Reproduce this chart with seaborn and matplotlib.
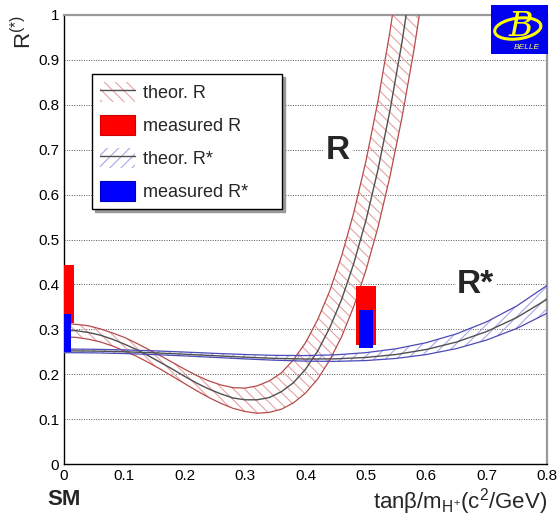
import seaborn as sns
import matplotlib.pyplot as plt
import matplotlib.patches as mpatches
from matplotlib.lines import Line2D
from matplotlib.ticker import MultipleLocator, FuncFormatter

# theory band R (tanb/mH scan)
x_r = [0.00, 0.02, 0.04, 0.06, 0.08, 0.10, 0.12, 0.14, 0.16, 0.18, 0.20,
       0.22, 0.24, 0.26, 0.28, 0.30, 0.32, 0.34, 0.36, 0.38, 0.40,
       0.42, 0.44, 0.46, 0.48, 0.50, 0.52, 0.54, 0.56, 0.58, 0.60]
r_up = [0.313, 0.311, 0.308, 0.301, 0.292, 0.282, 0.269, 0.255, 0.241, 0.226, 0.211,
        0.197, 0.185, 0.176, 0.170, 0.169, 0.174, 0.185, 0.203, 0.232, 0.270,
        0.321, 0.385, 0.464, 0.560, 0.674, 0.808, 0.964, 1.145, 1.351, 1.585]
r_mid = [0.298, 0.297, 0.293, 0.287, 0.278, 0.267, 0.255, 0.241, 0.226, 0.211, 0.195,
         0.180, 0.167, 0.156, 0.147, 0.143, 0.143, 0.148, 0.161, 0.181, 0.211,
         0.251, 0.303, 0.367, 0.447, 0.542, 0.655, 0.788, 0.941, 1.117, 1.318]
r_lo = [0.283, 0.282, 0.278, 0.272, 0.263, 0.252, 0.240, 0.226, 0.211, 0.195, 0.179,
        0.163, 0.148, 0.135, 0.124, 0.117, 0.113, 0.115, 0.122, 0.136, 0.158,
        0.189, 0.231, 0.284, 0.351, 0.431, 0.527, 0.641, 0.773, 0.925, 1.100]

# theory band R*
x_rs = [0.00, 0.05, 0.10, 0.15, 0.20, 0.25, 0.30, 0.35, 0.40,
        0.45, 0.50, 0.55, 0.60, 0.65, 0.70, 0.75, 0.80]
rs_up = [0.256, 0.2555, 0.2541, 0.2520, 0.2493, 0.2464, 0.2438, 0.2419, 0.2415,
         0.2432, 0.2480, 0.2566, 0.2702, 0.2898, 0.3167, 0.3521, 0.3976]
rs_mid = [0.252, 0.2515, 0.2500, 0.2476, 0.2445, 0.2412, 0.2379, 0.2352, 0.2338,
          0.2342, 0.2373, 0.2439, 0.2550, 0.2716, 0.2950, 0.3262, 0.3668]
rs_lo = [0.248, 0.2475, 0.2460, 0.2437, 0.2407, 0.2374, 0.2340, 0.2311, 0.2291,
         0.2286, 0.2304, 0.2351, 0.2437, 0.2570, 0.2761, 0.3019, 0.3357]

# measurements (SM point and tanb/mH = 0.5)
meas_x = [0.0, 0.5]
meas_r_lo = [0.315, 0.264]
meas_r_hi = [0.443, 0.396]
meas_rs_lo = [0.250, 0.259]
meas_rs_hi = [0.335, 0.344]

sns.set_style("white")
plt.rcParams['font.family'] = ['Liberation Sans', 'DejaVu Sans']
plt.rcParams['mathtext.fontset'] = 'custom'
plt.rcParams['mathtext.rm'] = 'Liberation Sans'
plt.rcParams['mathtext.it'] = 'Liberation Sans:italic'
plt.rcParams['hatch.linewidth'] = 0.8

red_edge = '#b84a4a'
red_hatch = '#e6a3a3'
blue_edge = '#4a4ab8'
blue_hatch = '#a8a8e6'
mid_col = '#505050'

fig = plt.figure(figsize=(5.58, 5.2), dpi=100)
ax = fig.add_axes([64/558, 1-464/520, 483/558, 449/520])

# R band
ax.fill_between(x_r, r_lo, r_up, facecolor='none', edgecolor=red_hatch,
                hatch='\\\\\\', linewidth=0, zorder=2)
sns.lineplot(x=x_r, y=r_up, color=red_edge, lw=0.9, ax=ax, sort=False, estimator=None, zorder=3)
sns.lineplot(x=x_r, y=r_lo, color=red_edge, lw=0.9, ax=ax, sort=False, estimator=None, zorder=3)
sns.lineplot(x=x_r, y=r_mid, color=mid_col, lw=1.0, ax=ax, sort=False, estimator=None, zorder=3)

# R* band
ax.fill_between(x_rs, rs_lo, rs_up, facecolor='none', edgecolor=blue_hatch,
                hatch='///', linewidth=0, zorder=2)
sns.lineplot(x=x_rs, y=rs_up, color=blue_edge, lw=0.9, ax=ax, sort=False, estimator=None, zorder=3)
sns.lineplot(x=x_rs, y=rs_lo, color=blue_edge, lw=0.9, ax=ax, sort=False, estimator=None, zorder=3)
sns.lineplot(x=x_rs, y=rs_mid, color=mid_col, lw=1.0, ax=ax, sort=False, estimator=None, zorder=3)

# measured boxes
ax.bar(meas_x, [h - l for l, h in zip(meas_r_lo, meas_r_hi)], bottom=meas_r_lo,
       width=0.032, color='#ff0000', edgecolor='none', zorder=5)
ax.bar(meas_x, [h - l for l, h in zip(meas_rs_lo, meas_rs_hi)], bottom=meas_rs_lo,
       width=0.022, color='#0000ff', edgecolor='none', zorder=6)

ax.set_xlim(0, 0.8)
ax.set_ylim(0, 1)
ax.xaxis.set_major_locator(MultipleLocator(0.1))
ax.xaxis.set_minor_locator(MultipleLocator(0.02))
ax.yaxis.set_major_locator(MultipleLocator(0.1))
ax.yaxis.set_minor_locator(MultipleLocator(0.02))
fmt = FuncFormatter(lambda v, p: '%g' % round(v, 2))
ax.xaxis.set_major_formatter(fmt)
ax.yaxis.set_major_formatter(fmt)
ax.tick_params(which='both', direction='in', top=False, right=False, labelsize=11, colors='black')
ax.tick_params(which='major', length=10, width=1)
ax.tick_params(which='minor', length=5.5, width=1)

for yy in [0.1, 0.2, 0.3, 0.4, 0.5, 0.6, 0.7, 0.8, 0.9]:
    ax.axhline(yy, color='#555555', lw=0.7, ls=(0, (1, 1.5)), zorder=1)

for s in ['left', 'bottom']:
    ax.spines[s].set_color('black')
    ax.spines[s].set_linewidth(1)
for s in ['top', 'right']:
    ax.spines[s].set_color('0.6')
    ax.spines[s].set_linewidth(1.6)

ax.set_xlabel('tanβ/m$_{\\mathrm{H^{+}}}$(c$^{2}$/GeV)', fontsize=16, loc='right', labelpad=2)
ax.set_ylabel('R$^{(*)}$', fontsize=16, loc='top')
ax.yaxis.set_label_coords(-0.058, 1.0)
ax.text(0.0, -0.078, 'SM', transform=ax.transAxes, ha='center', va='center',
        fontsize=16, fontweight='bold')

ax.text(0.454, 0.699, 'R', fontsize=24, fontweight='bold', ha='center', va='center',
        zorder=4, bbox=dict(facecolor='white', edgecolor='none', pad=2))
ax.text(0.682, 0.400, 'R*', fontsize=24, fontweight='bold', ha='center', va='center',
        zorder=4, bbox=dict(facecolor='white', edgecolor='none', pad=1))

handles = [
    (mpatches.Patch(facecolor='none', edgecolor=red_hatch, hatch='\\\\\\', lw=0),
     Line2D([], [], color=mid_col, lw=1.0)),
    mpatches.Patch(facecolor='#ff0000', edgecolor='#d00000', lw=0.8),
    (mpatches.Patch(facecolor='none', edgecolor=blue_hatch, hatch='///', lw=0),
     Line2D([], [], color=mid_col, lw=1.0)),
    mpatches.Patch(facecolor='#0000ff', edgecolor='#0000c0', lw=0.8),
]
labels = ['theor. R', 'measured R', 'theor. R*', 'measured R*']
leg = ax.legend(handles, labels, loc='upper left', bbox_to_anchor=(0.058, 0.869, 0.393, 0.0),
                mode='expand', fontsize=13, frameon=True, fancybox=False,
                shadow={'facecolor': '0.6', 'edgecolor': '0.6', 'alpha': 1.0},
                handlelength=1.95, handleheight=1.35, labelspacing=0.7,
                handletextpad=0.4, borderpad=0.45, borderaxespad=0)
leg.get_frame().set_edgecolor('black')
leg.get_frame().set_linewidth(1.0)
leg.set_zorder(7)

# Belle logo
lax = fig.add_axes([491/558, 1-54/520, 57/558, 49/520])
lax.set_xlim(0, 1)
lax.set_ylim(0, 1)
lax.set_facecolor('#0000ee')
for s in lax.spines.values():
    s.set_visible(False)
lax.set_xticks([])
lax.set_yticks([])
lax.add_patch(mpatches.Arc((0.47, 0.52), 0.82, 0.42, angle=10, color='#ffff00', lw=2.2))
lax.text(0.52, 0.55, 'B', fontsize=24, color='#ffff00', ha='center', va='center',
         family='DejaVu Serif', style='italic')
lax.text(0.62, 0.13, 'BELLE', fontsize=6, color='#ffff60', ha='center', va='center', style='italic')

fig.savefig('out.png', dpi=100)
